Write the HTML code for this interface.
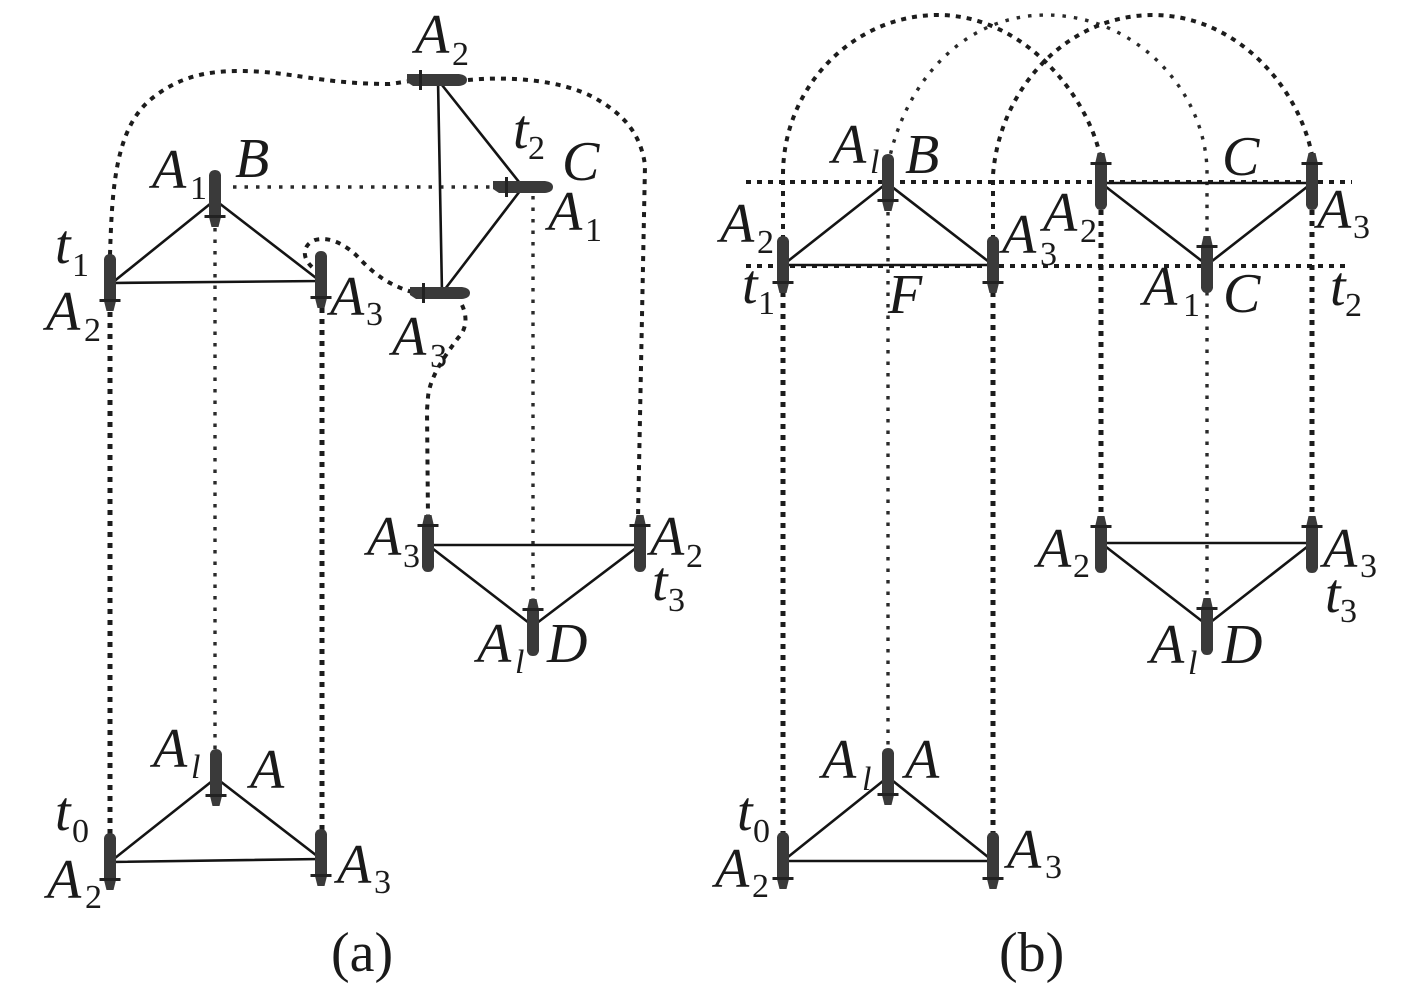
<!DOCTYPE html>
<html>
<head>
<meta charset="utf-8">
<style>
html,body{margin:0;padding:0;background:#fff;width:1417px;height:991px;overflow:hidden}
svg{display:block}
text{font-family:"Liberation Serif",serif;fill:#1a1a1a}
.i{font-style:italic;font-size:56px}
.s{font-size:34px}
.l{font-style:italic;font-size:34px}
.c{font-size:56px}
.tri{fill:none;stroke:#141414;stroke-width:2.6;stroke-linejoin:round}
.thick{fill:none;stroke:#1c1c1c;stroke-width:5;stroke-dasharray:5 6}
.mid{fill:none;stroke:#1c1c1c;stroke-width:4;stroke-dasharray:5 6}
.thin{fill:none;stroke:#2a2a2a;stroke-width:3.4;stroke-dasharray:3.5 8}
</style>
</head>
<body>
<svg width="1417" height="991" viewBox="0 0 1417 991" xmlns="http://www.w3.org/2000/svg">
<defs>
  <g id="d" fill="#3a3a3a">
    <path d="M-6,-24 Q-5,-29 0,-29 Q5,-29 6,-24 L6,18 L3.5,28 L-3.5,28 L-6,18 Z"/>
    <rect x="-10.5" y="16" width="21" height="3" fill="#222"/>
  </g>
  <g id="u" fill="#3a3a3a">
    <path d="M-6,-19 L-3.5,-30 L3.5,-30 L6,-19 L6,22 Q5,27 0,27 Q-5,27 -6,22 Z"/>
    <rect x="-10.5" y="-21" width="21" height="3" fill="#222"/>
  </g>
  <g id="h" fill="#3a3a3a">
    <path d="M0,-6 L52,-6 Q60,-5 60,0 Q60,5 52,6 L6,6 L0,2 Z"/>
    <rect x="12" y="-10" width="3" height="20" fill="#222"/>
  </g>
</defs>
<rect width="1417" height="991" fill="#fff"/>

<!-- (a) connectors -->
<path class="thick" d="M110 312 L110 835"/>
<path class="thin" d="M215 228 L215 750"/>
<path class="thick" d="M322 308 L322 830"/>
<path class="thin" d="M233 187 L495 187"/>
<path class="thin" d="M533 196 L533 603"/>
<path class="mid" d="M110 255 C112 190,115 130,150 100 C180 75,210 71,240 71 C290 71,320 84,390 84 L410 81"/>
<path class="mid" d="M468 80 C510 76,560 80,593 97 C620 112,640 130,645 165 L638 518"/>
<path class="mid" d="M312 267 C302 258,302 245,315 240 C330 236,345 245,356 255 C370 270,385 284,412 292"/>
<path class="mid" d="M462 305 C468 318,466 330,458 338 C448 352,430 375,428 397 L427 410 L428 518"/>

<!-- (a) triangles -->
<path class="tri" d="M216 778 L110 862 L321 859 Z"/>
<path class="tri" d="M215 200 L112 283 L320 281 Z"/>
<path class="tri" d="M438 80 L523 187 L442 293 Z"/>
<path class="tri" d="M428 545 L533 626 L640 545 Z"/>

<!-- (a) ships -->
<use href="#d" x="215" y="199"/>
<use href="#d" x="110" y="283"/>
<use href="#d" x="321" y="280"/>
<use href="#d" x="216" y="778"/>
<use href="#d" x="110" y="862"/>
<use href="#d" x="321" y="858"/>
<use href="#h" x="407" y="80"/>
<use href="#h" x="410" y="293"/>
<use href="#h" x="493" y="187"/>
<use href="#u" x="428" y="545"/>
<use href="#u" x="640" y="545"/>
<use href="#u" x="533" y="629"/>

<!-- (b) connectors -->
<path class="mid" d="M746 182 L1352 182"/>
<path class="mid" d="M746 266 L1350 266"/>
<path class="thick" d="M783 292 L783 835"/>
<path class="thin" d="M888 212 L888 750"/>
<path class="thick" d="M993 292 L993 835"/>
<path class="thick" d="M1101 210 L1101 520"/>
<path class="thin" d="M1207 292 L1207 602"/>
<path class="thick" d="M1312 210 L1312 520"/>
<path class="mid" d="M783 240 L783 175 C783 85,855 15,938 15 C1020 15,1085 90,1100 155"/>
<path class="thin" d="M888 165 C905 80,965 15,1046 15 C1135 15,1205 90,1207 170 L1207 240"/>
<path class="mid" d="M993 240 L993 175 C1000 85,1070 15,1153 15 C1235 15,1298 85,1312 155"/>

<!-- (b) triangles -->
<path class="tri" d="M888 777 L783 861 L993 861 Z"/>
<path class="tri" d="M887 183 L783 265 L993 265 Z"/>
<path class="tri" d="M1101 183 L1207 265 L1312 183 Z"/>
<path class="tri" d="M1101 543 L1207 625 L1312 543 Z"/>

<!-- (b) ships -->
<use href="#d" x="888" y="183"/>
<use href="#d" x="783" y="265"/>
<use href="#d" x="993" y="265"/>
<use href="#d" x="888" y="777"/>
<use href="#d" x="783" y="861"/>
<use href="#d" x="993" y="861"/>
<use href="#u" x="1101" y="183"/>
<use href="#u" x="1312" y="183"/>
<use href="#u" x="1207" y="266"/>
<use href="#u" x="1101" y="546"/>
<use href="#u" x="1312" y="546"/>
<use href="#u" x="1207" y="628"/>

<!-- (a) labels -->
<text class="i" x="415" y="53">A</text><text class="s" x="452" y="65">2</text>
<text class="i" x="152" y="188">A</text><text class="s" x="190" y="199">1</text>
<text class="i" x="235" y="177">B</text>
<text class="i" x="55" y="263">t</text><text class="s" x="72" y="276">1</text>
<text class="i" x="46" y="330">A</text><text class="s" x="84" y="341">2</text>
<text class="i" x="330" y="315">A</text><text class="s" x="366" y="325">3</text>
<text class="i" x="513" y="148">t</text><text class="s" x="528" y="159">2</text>
<text class="i" x="562" y="180">C</text>
<text class="i" x="548" y="230">A</text><text class="s" x="585" y="241">1</text>
<text class="i" x="392" y="355">A</text><text class="s" x="430" y="367">3</text>
<text class="i" x="367" y="555">A</text><text class="s" x="403" y="567">3</text>
<text class="i" x="650" y="555">A</text><text class="s" x="686" y="567">2</text>
<text class="i" x="652" y="600">t</text><text class="s" x="668" y="611">3</text>
<text class="i" x="477" y="662">A</text><text class="l" x="515" y="673">l</text>
<text class="i" x="547" y="662">D</text>
<text class="i" x="153" y="767">A</text><text class="l" x="191" y="778">l</text>
<text class="i" x="250" y="788">A</text>
<text class="i" x="55" y="830">t</text><text class="s" x="72" y="842">0</text>
<text class="i" x="47" y="898">A</text><text class="s" x="85" y="908">2</text>
<text class="i" x="337" y="883">A</text><text class="s" x="374" y="893">3</text>
<text class="c" x="331" y="971">(a)</text>

<!-- (b) labels -->
<text class="i" x="832" y="163">A</text><text class="l" x="870" y="173">l</text>
<text class="i" x="905" y="173">B</text>
<text class="i" x="720" y="242">A</text><text class="s" x="757" y="253">2</text>
<text class="i" x="1002" y="253">A</text><text class="s" x="1040" y="265">3</text>
<text class="i" x="1043" y="231">A</text><text class="s" x="1080" y="242">2</text>
<text class="i" x="1317" y="228">A</text><text class="s" x="1353" y="238">3</text>
<text class="i" x="1222" y="175">C</text>
<text class="i" x="742" y="303">t</text><text class="s" x="758" y="314">1</text>
<text class="i" x="888" y="313">F</text>
<text class="i" x="1143" y="305">A</text><text class="s" x="1183" y="316">1</text>
<text class="i" x="1223" y="312">C</text>
<text class="i" x="1330" y="305">t</text><text class="s" x="1345" y="316">2</text>
<text class="i" x="1037" y="567">A</text><text class="s" x="1073" y="577">2</text>
<text class="i" x="1323" y="567">A</text><text class="s" x="1360" y="577">3</text>
<text class="i" x="1325" y="612">t</text><text class="s" x="1340" y="622">3</text>
<text class="i" x="1150" y="663">A</text><text class="l" x="1188" y="674">l</text>
<text class="i" x="1222" y="663">D</text>
<text class="i" x="822" y="778">A</text><text class="l" x="862" y="790">l</text>
<text class="i" x="905" y="778">A</text>
<text class="i" x="737" y="830">t</text><text class="s" x="753" y="842">0</text>
<text class="i" x="715" y="887">A</text><text class="s" x="752" y="897">2</text>
<text class="i" x="1007" y="868">A</text><text class="s" x="1045" y="878">3</text>
<text class="c" x="999" y="971">(b)</text>
</svg>
</body>
</html>
